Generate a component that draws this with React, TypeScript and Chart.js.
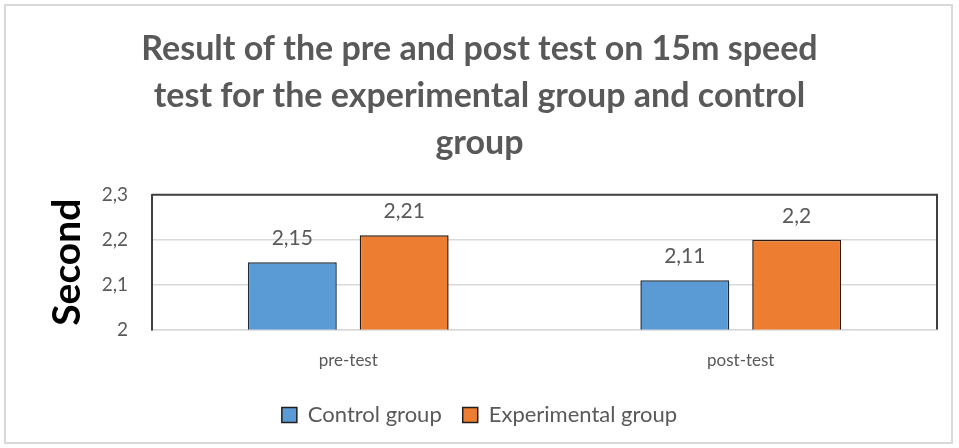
import React, { useEffect, useRef } from "react";
import { Chart, registerables } from "chart.js";

Chart.register(...registerables);

const categories = ["pre-test", "post-test"];
const controlValues = [2.15, 2.11];
const experimentalValues = [2.21, 2.2];
const titleLines = [
  "Result of the pre and post test on 15m speed",
  "test for the experimental group and control",
  "group",
];
const yMin = 2;
const yMax = 2.3;
const yStep = 0.1;

const fmt = (v: number) => String(Math.round(v * 100) / 100).replace(".", ",");

const framePlugin = {
  id: "frame",
  beforeDraw(chart: any) {
    const ctx = chart.ctx;
    ctx.save();
    ctx.fillStyle = "#ffffff";
    ctx.fillRect(0, 0, chart.width, chart.height);
    ctx.strokeStyle = "#d9d9d9";
    ctx.lineWidth = 2;
    ctx.strokeRect(5, 5, chart.width - 12, chart.height - 10);
    ctx.restore();
  },
  afterDatasetsDraw(chart: any) {
    const { ctx, chartArea } = chart;
    ctx.save();
    ctx.strokeStyle = "#404040";
    ctx.lineWidth = 2;
    ctx.beginPath();
    ctx.moveTo(chartArea.left, chartArea.top);
    ctx.lineTo(chartArea.right, chartArea.top);
    ctx.lineTo(chartArea.right, chartArea.bottom);
    ctx.stroke();
    // data labels
    ctx.fillStyle = "#595959";
    ctx.font = "21px Lato";
    ctx.textAlign = "center";
    ctx.textBaseline = "alphabetic";
    chart.data.datasets.forEach((ds: any, i: number) => {
      const meta = chart.getDatasetMeta(i);
      meta.data.forEach((bar: any, j: number) => {
        ctx.fillText(fmt(ds.data[j]), bar.x, bar.y - 17);
      });
    });
    ctx.restore();
  },
};

export default function App() {
  const ref = useRef<HTMLCanvasElement | null>(null);
  useEffect(() => {
    if (!ref.current) return;
    const chart = new Chart(ref.current, {
      type: "bar",
      data: {
        labels: categories,
        datasets: [
          {
            label: "Control group",
            data: controlValues,
            backgroundColor: "#5b9bd5",
            borderColor: "#1f2a36",
            borderWidth: 1.5,
            borderSkipped: "bottom",
            barPercentage: 0.795,
            categoryPercentage: 0.57,
          },
          {
            label: "Experimental group",
            data: experimentalValues,
            backgroundColor: "#ed7d31",
            borderColor: "#2a1a10",
            borderWidth: 1.5,
            borderSkipped: "bottom",
            barPercentage: 0.795,
            categoryPercentage: 0.57,
          },
        ],
      },
      options: {
        responsive: false,
        animation: false,
        layout: { padding: { left: 22, right: 22, top: 26, bottom: 12 } },
        plugins: {
          title: {
            display: true,
            text: titleLines,
            color: "#595959",
            font: { family: "Lato", size: 34, weight: "bold", lineHeight: 1.38 },
            padding: { top: 0, bottom: 28 },
          },
          legend: {
            position: "bottom",
            labels: {
              color: "#595959",
              font: { family: "Lato", size: 22 },
              boxWidth: 15,
              boxHeight: 15,
              padding: 21,
              generateLabels: (chart: any) =>
                chart.data.datasets.map((ds: any, i: number) => ({
                  text: ds.label,
                  fillStyle: ds.backgroundColor,
                  strokeStyle: "#1f1f1f",
                  lineWidth: 1.5,
                  datasetIndex: i,
                  fontColor: "#595959",
                })),
            },
          },
          tooltip: { enabled: false },
        },
        scales: {
          x: {
            grid: { display: false },
            border: { display: true, color: "#d9d9d9", width: 1.5 },
            ticks: {
              color: "#595959",
              font: { family: "Lato", size: 17 },
              padding: 12.5,
            },
          },
          y: {
            min: yMin,
            max: yMax,
            grid: { color: "#d9d9d9", lineWidth: 1.5, drawTicks: false },
            border: { display: true, color: "#404040", width: 2 },
            ticks: {
              stepSize: yStep,
              color: "#595959",
              font: { family: "Lato", size: 19 },
              padding: 24,
              callback: (v: any) => fmt(Number(v)),
            },
            title: {
              display: true,
              text: "Second",
              color: "#000000",
              font: { family: "Lato", size: 39, weight: "bold" },
              padding: { top: 22, bottom: 14 },
            },
            afterFit: (scale: any) => {
              scale.width = 130;
            },
          },
        },
      },
      plugins: [framePlugin],
    });
    return () => chart.destroy();
  }, []);
  return (
    <div style={{ position: "absolute", left: 0, top: 0, width: 959, height: 448 }}>
      <canvas ref={ref} width={959} height={448} style={{ width: 959, height: 448 }} />
    </div>
  );
}
